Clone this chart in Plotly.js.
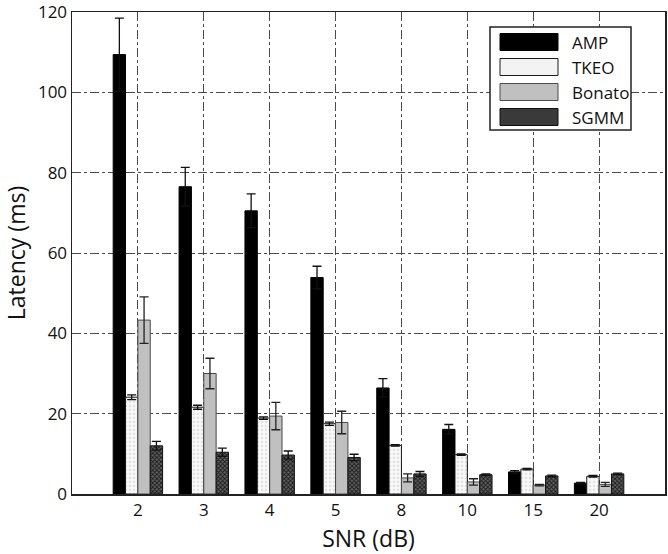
<!DOCTYPE html>
<html>
<head>
<meta charset="utf-8">
<script src="https://cdn.plot.ly/plotly-3.0.1.min.js"></script>
<style>html,body{margin:0;padding:0;background:#fff;}#chart{width:668px;height:554px;}</style>
</head>
<body>
<div id="chart"></div>
<script>
// ---- data ----
const snrLabels = ['2', '3', '4', '5', '8', '10', '15', '20'];
const seriesNames = ['AMP', 'TKEO', 'Bonato', 'SGMM'];

const ampValues    = [109.4, 76.5, 70.5, 53.9, 26.4, 16.1, 5.5, 2.7];
const ampErrors    = [9.1, 4.8, 4.2, 2.8, 2.3, 1.2, 0.3, 0.2];
const tkeoValues   = [24.1, 21.6, 18.9, 17.5, 12.1, 9.8, 6.2, 4.4];
const tkeoErrors   = [0.6, 0.5, 0.3, 0.4, 0.2, 0.2, 0.2, 0.2];
const bonatoValues = [43.3, 30.0, 19.4, 17.8, 4.0, 3.0, 2.2, 2.4];
const bonatoErrors = [5.8, 3.8, 3.4, 2.8, 1.0, 0.8, 0.2, 0.5];
const sgmmValues   = [12.0, 10.4, 9.7, 9.1, 5.0, 4.8, 4.5, 5.0];
const sgmmErrors   = [1.1, 1.0, 1.0, 0.8, 0.6, 0.2, 0.2, 0.2];

const yTicks = [0, 20, 40, 60, 80, 100, 120];

// ---- styles ----
const FONT = 'Open Sans, Noto Sans, sans-serif';
const styles = [
  {color: '#000000', line: '#000000', pattern: null, err: '#111111'},
  {color: '#f6f6f6', line: '#1a1a1a', pattern: {shape: '.', bgcolor: '#f8f8f8', fgcolor: '#e0e0e0', size: 4, solidity: 0.25}, err: '#111111'},
  {color: '#c0c0c0', line: '#4a4a4a', pattern: null, err: '#222222'},
  {color: '#3c3c3c', line: '#111111', pattern: {shape: 'x', bgcolor: '#626262', fgcolor: '#1a1a1a', size: 3, solidity: 0.5}, err: '#111111'}
];
const allValues = [ampValues, tkeoValues, bonatoValues, sgmmValues];
const allErrors = [ampErrors, tkeoErrors, bonatoErrors, sgmmErrors];

const traces = seriesNames.map((name, i) => {
  const marker = {color: styles[i].color, line: {color: styles[i].line, width: 1}};
  if (styles[i].pattern) marker.pattern = styles[i].pattern;
  return {
    type: 'bar',
    name: name,
    x: snrLabels,
    y: allValues[i],
    marker: marker,
    error_y: {type: 'data', array: allErrors[i], visible: true, color: styles[i].err, thickness: 1.3, width: 4.5},
    showlegend: false,
    hoverinfo: 'x+y+name'
  };
});

// ---- custom legend (wide swatches like the original) ----
const swatchFill = ['#000000', '#f3f3f3', '#c0c0c0', '#3a3a3a'];
const shapes = [{
  type: 'rect', xref: 'paper', yref: 'paper',
  xsizemode: 'pixel', ysizemode: 'pixel', xanchor: 1, yanchor: 1,
  x0: -175, x1: -34, y0: -118, y1: -15,
  fillcolor: '#ffffff', line: {color: '#222222', width: 1.5}, layer: 'above'
}];
const annotations = [];
seriesNames.forEach((name, i) => {
  const cy = -30 - 25 * i;
  shapes.push({
    type: 'rect', xref: 'paper', yref: 'paper',
    xsizemode: 'pixel', ysizemode: 'pixel', xanchor: 1, yanchor: 1,
    x0: -165, x1: -107, y0: cy - 8.5, y1: cy + 8.5,
    fillcolor: swatchFill[i], line: {color: styles[i].line, width: 1}, layer: 'above'
  });
  annotations.push({
    xref: 'paper', yref: 'paper', x: 1, y: 1, xanchor: 'left', yanchor: 'middle',
    xshift: -95, yshift: cy, text: name, showarrow: false,
    font: {family: FONT, size: 17, color: '#111111'}
  });
});

const layout = {
  width: 668, height: 554,
  margin: {l: 72, r: 3, t: 12, b: 60},
  paper_bgcolor: '#ffffff', plot_bgcolor: '#ffffff',
  barmode: 'group', bargap: 0.25, bargroupgap: 0,
  font: {family: FONT, size: 17, color: '#111111'},
  xaxis: {
    type: 'category',
    categoryorder: 'array', categoryarray: snrLabels,
    range: [-1, 8],
    showgrid: true, gridcolor: '#4a4a4a', gridwidth: 1, griddash: 'dashdot',
    showline: true, linecolor: '#222222', linewidth: 1.5, mirror: true,
    ticks: '', zeroline: false,
    tickfont: {family: FONT, size: 17, color: '#111111'},
    title: {text: 'SNR (dB)', font: {family: FONT, size: 23, color: '#111111'}}
  },
  yaxis: {
    range: [0, 120], tickvals: yTicks, ticktext: yTicks.map(String),
    ticklabeloverflow: 'allow',
    showgrid: true, gridcolor: '#4a4a4a', gridwidth: 1, griddash: 'dashdot',
    showline: true, linecolor: '#222222', linewidth: 1.5, mirror: true,
    ticks: '', zeroline: false,
    tickfont: {family: FONT, size: 17, color: '#111111'},
    title: {text: 'Latency (ms)', font: {family: FONT, size: 23, color: '#111111'}}
  },
  shapes: shapes,
  annotations: annotations
};

Plotly.newPlot('chart', traces, layout, {displayModeBar: false, staticPlot: true});
</script>
</body>
</html>
